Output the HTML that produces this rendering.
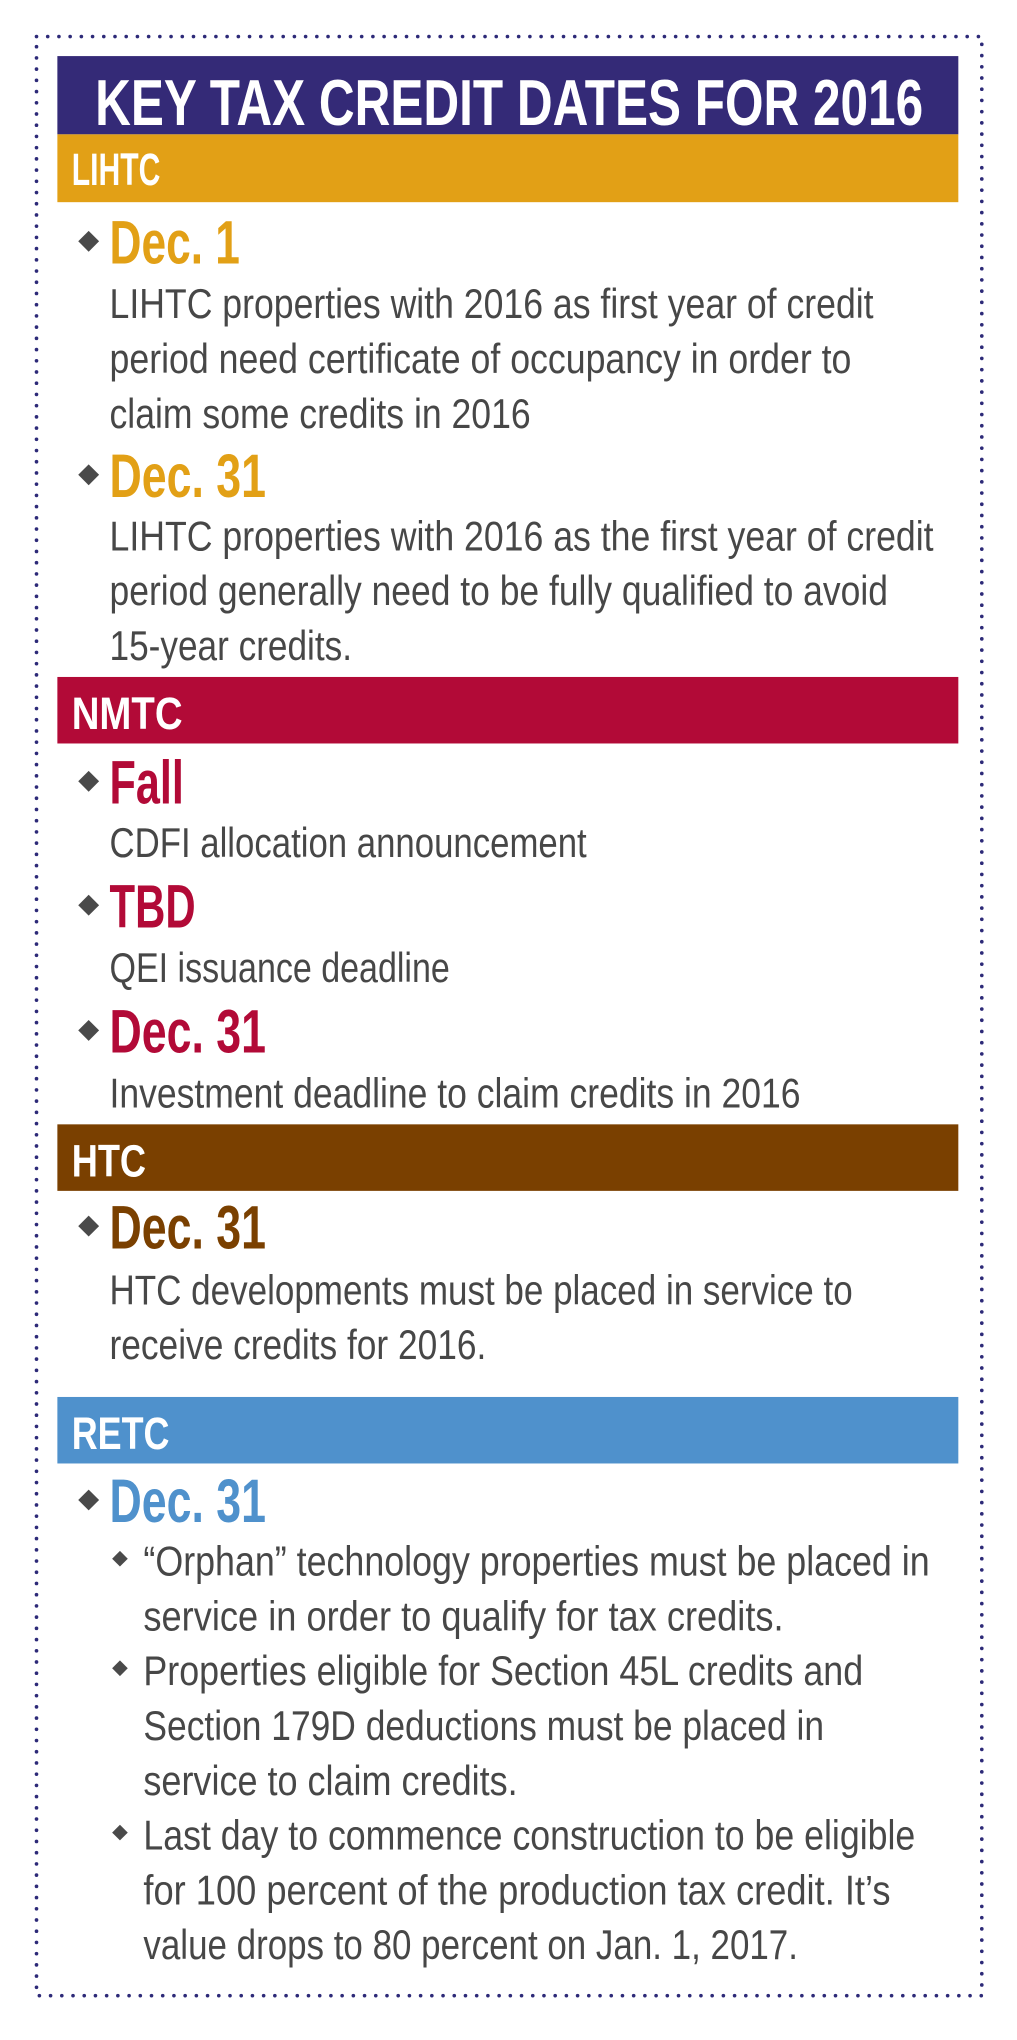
<!DOCTYPE html>
<html><head><meta charset="utf-8"><style>
html,body{margin:0;padding:0;background:#fff;}
svg{display:block;}
.t{font-family:"Liberation Sans Narrow","Liberation Sans",sans-serif;}
.b{font-size:32px;fill:#474747;}
.d{font-size:47px;font-weight:bold;}
.l{font-size:35px;font-weight:bold;fill:#fff;}
</style></head><body>
<svg width="1017" height="2040" viewBox="0 0 780 1564" preserveAspectRatio="none" xmlns="http://www.w3.org/2000/svg">
<rect x="0" y="0" width="780" height="1564" fill="#fff"/>
<rect x="28" y="28" width="725" height="1502" fill="none" stroke="#2d2a78" stroke-width="2.8" stroke-dasharray="0 8.6" stroke-linecap="round"/>
<rect x="44" y="43" width="691" height="60" fill="#342a77"/>
<text class="t" x="73" y="96" font-size="50" font-weight="bold" fill="#fff" textLength="635" lengthAdjust="spacingAndGlyphs">KEY TAX CREDIT DATES FOR 2016</text>
<rect x="44" y="103" width="691" height="52" fill="#e2a016"/>
<text class="t l" x="55" y="142" textLength="68" lengthAdjust="spacingAndGlyphs">LIHTC</text>
<g class="t">
<polygon points="68,177 76,185 68,193 60,185" fill="#4a4a4a"/>
<text class="d" x="84" y="202" fill="#e2a016" textLength="100" lengthAdjust="spacingAndGlyphs">Dec. 1</text>
<text class="b" x="84" y="244" textLength="586" lengthAdjust="spacingAndGlyphs">LIHTC properties with 2016 as first year of credit</text>
<text class="b" x="84" y="286" textLength="569" lengthAdjust="spacingAndGlyphs">period need certificate of occupancy in order to</text>
<text class="b" x="84" y="328" textLength="323" lengthAdjust="spacingAndGlyphs">claim some credits in 2016</text>
<polygon points="68,356 76,364 68,372 60,364" fill="#4a4a4a"/>
<text class="d" x="84" y="381" fill="#e2a016" textLength="120" lengthAdjust="spacingAndGlyphs">Dec. 31</text>
<text class="b" x="84" y="422" textLength="632" lengthAdjust="spacingAndGlyphs">LIHTC properties with 2016 as the first year of credit</text>
<text class="b" x="84" y="464" textLength="597" lengthAdjust="spacingAndGlyphs">period generally need to be fully qualified to avoid</text>
<text class="b" x="84" y="506" textLength="186" lengthAdjust="spacingAndGlyphs">15-year credits.</text>
</g>
<rect x="44" y="519" width="691" height="51" fill="#b20a37"/>
<text class="t l" x="55" y="559" textLength="85" lengthAdjust="spacingAndGlyphs">NMTC</text>
<g class="t">
<polygon points="68,591 76,599 68,607 60,599" fill="#4a4a4a"/>
<text class="d" x="84" y="616" fill="#b20a37" textLength="57" lengthAdjust="spacingAndGlyphs">Fall</text>
<text class="b" x="84" y="657" textLength="366" lengthAdjust="spacingAndGlyphs">CDFI allocation announcement</text>
<polygon points="68,686 76,694 68,702 60,694" fill="#4a4a4a"/>
<text class="d" x="84" y="711" fill="#b20a37" textLength="66" lengthAdjust="spacingAndGlyphs">TBD</text>
<text class="b" x="84" y="753" textLength="261" lengthAdjust="spacingAndGlyphs">QEI issuance deadline</text>
<polygon points="68,782 76,790 68,798 60,790" fill="#4a4a4a"/>
<text class="d" x="84" y="807" fill="#b20a37" textLength="120" lengthAdjust="spacingAndGlyphs">Dec. 31</text>
<text class="b" x="84" y="849" textLength="530" lengthAdjust="spacingAndGlyphs">Investment deadline to claim credits in 2016</text>
</g>
<rect x="44" y="862" width="691" height="51" fill="#7a4000"/>
<text class="t l" x="55" y="902" textLength="57" lengthAdjust="spacingAndGlyphs">HTC</text>
<g class="t">
<polygon points="68,932 76,940 68,948 60,940" fill="#4a4a4a"/>
<text class="d" x="84" y="957" fill="#7a4000" textLength="120" lengthAdjust="spacingAndGlyphs">Dec. 31</text>
<text class="b" x="84" y="1000" textLength="570" lengthAdjust="spacingAndGlyphs">HTC developments must be placed in service to</text>
<text class="b" x="84" y="1042" textLength="289" lengthAdjust="spacingAndGlyphs">receive credits for 2016.</text>
</g>
<rect x="44" y="1071" width="691" height="51" fill="#4f91cc"/>
<text class="t l" x="55" y="1111" textLength="75" lengthAdjust="spacingAndGlyphs">RETC</text>
<g class="t">
<polygon points="68,1142 76,1150 68,1158 60,1150" fill="#4a4a4a"/>
<text class="d" x="84" y="1167" fill="#4f91cc" textLength="120" lengthAdjust="spacingAndGlyphs">Dec. 31</text>
<polygon points="92,1189 98,1195 92,1201 86,1195" fill="#4a4a4a"/>
<text class="b" x="110" y="1208" textLength="603" lengthAdjust="spacingAndGlyphs">“Orphan” technology properties must be placed in</text>
<text class="b" x="110" y="1250" textLength="491" lengthAdjust="spacingAndGlyphs">service in order to qualify for tax credits.</text>
<polygon points="92,1273 98,1279 92,1285 86,1279" fill="#4a4a4a"/>
<text class="b" x="110" y="1292" textLength="552" lengthAdjust="spacingAndGlyphs">Properties eligible for Section 45L credits and</text>
<text class="b" x="110" y="1334" textLength="522" lengthAdjust="spacingAndGlyphs">Section 179D deductions must be placed in</text>
<text class="b" x="110" y="1376" textLength="287" lengthAdjust="spacingAndGlyphs">service to claim credits.</text>
<polygon points="92,1399 98,1405 92,1411 86,1405" fill="#4a4a4a"/>
<text class="b" x="110" y="1418" textLength="592" lengthAdjust="spacingAndGlyphs">Last day to commence construction to be eligible</text>
<text class="b" x="110" y="1460" textLength="573" lengthAdjust="spacingAndGlyphs">for 100 percent of the production tax credit. It’s</text>
<text class="b" x="110" y="1502" textLength="502" lengthAdjust="spacingAndGlyphs">value drops to 80 percent on Jan. 1, 2017.</text>
</g>
</svg>
</body></html>
